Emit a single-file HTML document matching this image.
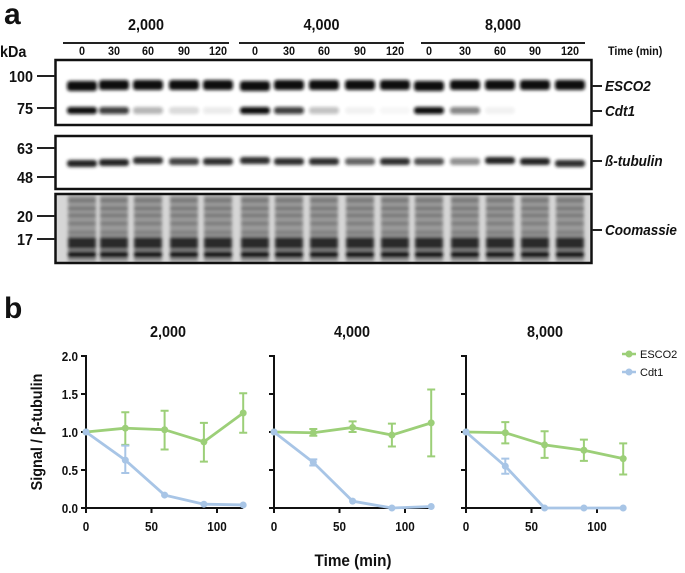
<!DOCTYPE html>
<html><head><meta charset="utf-8"><style>
html,body{margin:0;padding:0;background:#fff}
svg{display:block}
text{font-family:"Liberation Sans",Arial,sans-serif;font-weight:bold;fill:#111}
</style></head><body>
<svg id="s" width="685" height="573" viewBox="0 0 685 573" xmlns="http://www.w3.org/2000/svg">
<defs>
<filter id="bl" x="-30%" y="-80%" width="160%" height="260%"><feGaussianBlur stdDeviation="1.6"/></filter>
<filter id="bl2" x="-20%" y="-20%" width="140%" height="140%"><feGaussianBlur stdDeviation="1.6"/></filter>
</defs>
<g id="g"></g>
</svg>
<script>
const g=document.getElementById('g');let h='';
function t(x,y,s,sz,anc,extra,cx){cx=cx||0.9;h+=`<text transform="translate(${x} ${y}) scale(${cx} 1)" font-size="${sz}" text-anchor="${anc||'start'}" ${extra||''}>${s}</text>`;}
t(4,24,'a',30,'start','',1);
const grp=[[63,229,'2,000'],[239,404,'4,000'],[421,585,'8,000']];
grp.forEach(a=>{t((a[0]+a[1])/2,30,a[2],16,'middle');h+=`<rect x="${a[0]}" y="42" width="${a[1]-a[0]}" height="2" fill="#222"/>`;});
t(0,57,'kDa',16);
const lanes=[82,114,148,184,218,255,289,324,360,395,429,465,500,535,570];
const tl=['0','30','60','90','120'];
lanes.forEach((x,i)=>t(x,55,tl[i%5],12,'middle'));
t(608,55,'Time (min)',12);
const boxes=[[59,126],[135,190],[193,264]];
h+=`<rect x="55" y="193" width="537" height="71" fill="#d6d6d6"/>`;
lanes.forEach((x,i)=>{
 let y0=195;
 h+=`<g filter="url(#bl2)"><rect x="${x-14}" y="${y0}" width="28" height="67" fill="#9a9a9a"/>`;
 [4,12,19,27,36].forEach((o,k)=>h+=`<rect x="${x-14}" y="${y0+o}" width="28" height="3" fill="#555" opacity="${0.7-k*0.05}"/>`);
 h+=`<rect x="${x-14}" y="${y0+42}" width="28" height="12" fill="#2a2a2a"/>`;
 h+=`<rect x="${x-14}" y="${y0+56}" width="28" height="7" fill="#151515"/></g>`;
});
const cd=[1,.8,.3,.15,.08,1,.8,.25,.05,.03,1,.5,.05,0,0];
const tub=[1,1,.95,.85,.95,.95,.95,.95,.7,.95,.8,.5,1,1,.95];
const tuby=[163,162,160,161,161,160,161,161,161,161,161,161,160,161,163];
lanes.forEach((x,i)=>{
 h+=`<rect x="${x-15}" y="${80+(i%5==0?1:0)}" width="30" height="10" rx="3" fill="#111" filter="url(#bl)"/>`;
 if(cd[i]>0)h+=`<rect x="${x-15}" y="107" width="30" height="7" rx="3" fill="#111" opacity="${cd[i]}" filter="url(#bl)"/>`;
 h+=`<rect x="${x-15}" y="${tuby[i]-3}" width="30" height="7" rx="3" fill="#222" opacity="${tub[i]}" filter="url(#bl)"/>`;
});
boxes.forEach(b=>h+=`<rect x="55.5" y="${b[0]+1}" width="536" height="${b[1]-b[0]-2}" fill="none" stroke="#111" stroke-width="2.5"/>`);
[[76,'100'],[108,'75'],[148,'63'],[177,'48'],[216,'20'],[239,'17']].forEach(a=>{
 h+=`<rect x="37" y="${a[0]-1}" width="18" height="2" fill="#222"/>`;t(33,a[0]+6,a[1],16,'end');});
[[86,'ESCO2'],[111,'Cdt1'],[161,'ß-tubulin'],[230,'Coomassie']].forEach(a=>{
 h+=`<rect x="592" y="${a[0]-1}" width="10" height="2" fill="#222"/>`;t(605,a[0]+5,a[1],15,'start','font-style="italic"');});
t(4,318,'b',30,'start','',1);
const Y=v=>508-v*76;
const px=[86,274,466];const sx=1.31;
const titles=['2,000','4,000','8,000'];
const tc=[168,352,545];
const E=[[[1,1,1],[1.05,.83,1.26],[1.03,.77,1.28],[.87,.61,1.12],[1.25,.99,1.51]],
[[1,1,1],[.99,.95,1.04],[1.06,1.0,1.14],[.96,.81,1.11],[1.12,.68,1.56]],
[[1,1,1],[.99,.85,1.13],[.83,.66,1.01],[.76,.62,.90],[.65,.44,.85]]];
const C=[[[1,1,1],[.63,.46,.82],[.17,.17,.17],[.05,.05,.05],[.04,.04,.04]],
[[1,1,1],[.6,.56,.64],[.09,.09,.09],[0,0,0],[.02,.02,.02]],
[[1,1,1],[.55,.45,.65],[0,0,0],[0,0,0],[0,0,0]]];
const gr='#9ccf78',bl='#a8c5e6';
px.forEach((x0,p)=>{
 t(tc[p],337,titles[p],16,'middle');
 h+=`<line x1="${x0}" y1="355" x2="${x0}" y2="509" stroke="#111" stroke-width="2"/>`;
 h+=`<line x1="${x0}" y1="508" x2="${x0+120*sx}" y2="508" stroke="#111" stroke-width="2"/>`;
 [0,.5,1,1.5,2].forEach(v=>{h+=`<line x1="${x0-5}" y1="${Y(v)}" x2="${x0}" y2="${Y(v)}" stroke="#111" stroke-width="2"/>`;
  if(p==0)t(x0-8,Y(v)+5,v.toFixed(1),13,'end');});
 [0,50,100].forEach(v=>{const xx=x0+v*sx;h+=`<line x1="${xx}" y1="508" x2="${xx}" y2="513" stroke="#111" stroke-width="2"/>`;t(xx,531,v,13,'middle');});
 [[E[p],gr],[C[p],bl]].forEach(([d,c])=>{
  let pts=d.map((a,i)=>`${x0+i*30*sx},${Y(a[0])}`).join(' ');
  h+=`<polyline points="${pts}" fill="none" stroke="${c}" stroke-width="2.8"/>`;
  d.forEach((a,i)=>{const xx=x0+i*30*sx;
   if(a[2]-a[1]>0.01){h+=`<path d="M${xx} ${Y(a[1])}V${Y(a[2])}M${xx-4} ${Y(a[1])}h8M${xx-4} ${Y(a[2])}h8" stroke="${c}" stroke-width="2"/>`;}
   h+=`<circle cx="${xx}" cy="${Y(a[0])}" r="3.5" fill="${c}"/>`;});
 });
});
t(353,566,'Time (min)',17,'middle');
h+=`<text transform="translate(42 432) rotate(-90) scale(0.9 1)" font-size="16" text-anchor="middle">Signal / β-tubulin</text>`;
[[354,gr,'ESCO2'],[372,bl,'Cdt1']].forEach(a=>{
 h+=`<line x1="622" y1="${a[0]}" x2="636" y2="${a[0]}" stroke="${a[1]}" stroke-width="2.5"/><circle cx="629" cy="${a[0]}" r="3.5" fill="${a[1]}"/>`;
 h+=`<text x="640" y="${a[0]+4}" font-size="11" style="font-weight:normal">${a[2]}</text>`;});
g.innerHTML=h;
</script>
</body></html>
